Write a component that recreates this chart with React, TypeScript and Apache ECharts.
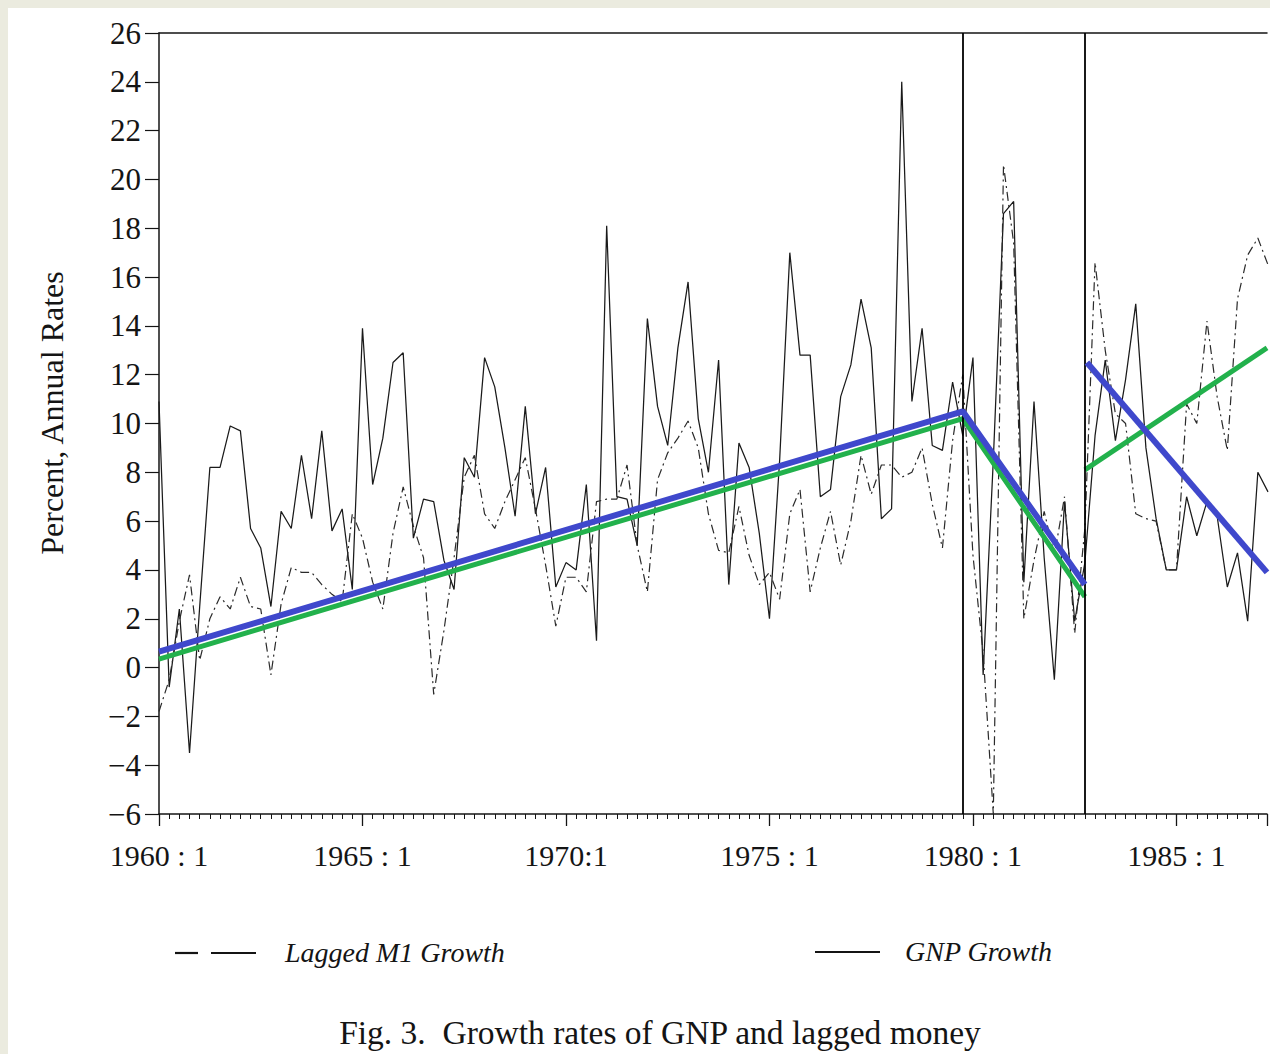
import React, { useEffect, useRef } from 'react';
import * as echarts from 'echarts';

// Quarter index 0 = 1960:1, 109 = 1987:2
const xTickLabels = ['1960 : 1', '1965 : 1', '1970:1', '1975 : 1', '1980 : 1', '1985 : 1'];

const gnpGrowth = [
  10.9, -0.8, 2.4, -3.5, 2.5, 8.2, 8.2, 9.9, 9.7, 5.7,
  4.9, 2.5, 6.4, 5.7, 8.7, 6.1, 9.7, 5.6, 6.5, 3.2,
  13.9, 7.5, 9.4, 12.5, 12.9, 5.3, 6.9, 6.8, 4.4, 3.2,
  8.6, 7.8, 12.7, 11.5, 9.0, 6.2, 10.7, 6.3, 8.2, 3.3,
  4.3, 4.0, 7.5, 1.1, 18.1, 7.0, 6.9, 5.0, 14.3, 10.7,
  9.1, 13.1, 15.8, 10.2, 8.0, 12.6, 3.4, 9.2, 8.2, 5.5,
  2.0, 8.5, 17.0, 12.8, 12.8, 7.0, 7.3, 11.1, 12.4, 15.1,
  13.1, 6.1, 6.5, 24.0, 10.9, 13.9, 9.1, 8.9, 11.7, 9.5,
  12.7, -0.3, 8.5, 18.6, 19.1, 3.5, 10.9, 4.5, -0.5, 6.8,
  1.9, 4.3, 9.5, 12.6, 9.3, 11.8, 14.9, 9.0, 6.1, 4.0,
  4.0, 7.0, 5.4, 6.8, 6.2, 3.3, 4.7, 1.9, 8.0, 7.2,
];

const laggedM1Growth = [
  -1.8, -0.5, 1.9, 3.8, 0.3, 2.0, 2.9, 2.4, 3.7, 2.5,
  2.4, -0.3, 2.6, 4.1, 3.9, 3.9, 3.4, 3.0, 2.7, 6.3,
  5.3, 3.5, 2.4, 5.5, 7.4, 5.8, 4.5, -1.1, 1.5, 4.5,
  7.8, 8.7, 6.3, 5.7, 6.8, 7.7, 8.6, 6.5, 4.2, 1.7,
  3.7, 3.7, 3.1, 6.8, 6.9, 6.9, 8.3, 5.0, 3.1, 7.7,
  8.8, 9.4, 10.1, 9.0, 6.3, 4.8, 4.7, 6.6, 4.6, 3.4,
  3.9, 2.8, 6.3, 7.3, 3.1, 4.9, 6.4, 4.2, 6.0, 8.7,
  7.1, 8.3, 8.3, 7.8, 8.0, 9.0, 6.7, 4.9, 9.3, 12.0,
  4.6, 0.6, -6.0, 20.6, 17.4, 2.0, 4.4, 6.4, 4.6, 7.0,
  1.4, 5.7, 16.6, 13.0, 10.4, 10.0, 6.3, 6.1, 6.0, 4.0,
  4.0, 10.8, 10.0, 14.2, 11.1, 8.9, 15.1, 16.9, 17.6, 16.5,
];

// Regime breaks (1979:4 and 1982:4)
const breakQuarters = [79, 91];

// Piecewise trend lines [quarter index, percent]
const blueTrendA = [[0, 0.65], [79, 10.5], [91, 3.4]];
const blueTrendB = [[91.2, 12.5], [108.9, 3.9]];
const greenTrendA = [[0, 0.35], [79, 10.2], [91, 2.9]];
const greenTrendB = [[91, 8.1], [108.9, 13.1]];

const legendNames = ['Lagged M1 Growth', 'GNP Growth'];
const captionText = 'Fig. 3.  Growth rates of GNP and lagged money';
const yAxisTitle = 'Percent, Annual Rates';

const SERIF = "'Liberation Serif', 'Times New Roman', serif";
const INK = '#141414';

export default function App() {
  const ref = useRef<HTMLDivElement>(null);

  useEffect(() => {
    document.body.style.background = '#ebebdf';
    document.body.style.overflow = 'hidden';
    if (!ref.current) return;
    const chart = echarts.init(ref.current, undefined, { renderer: 'svg' });

    const option: any = {
      animation: false,
      backgroundColor: '#ffffff',
      grid: { left: 151, right: 0, top: 25, bottom: 240 },
      xAxis: [
        {
          type: 'value',
          min: 0,
          max: 108.9,
          interval: 20,
          axisLine: { show: true, onZero: false, lineStyle: { color: INK, width: 1.5 } },
          axisTick: { show: true, length: 12, lineStyle: { color: INK, width: 1.3 } },
          minorTick: { show: true, splitNumber: 20, length: 5, lineStyle: { color: INK, width: 1 } },
          splitLine: { show: false },
          minorSplitLine: { show: false },
          axisLabel: {
            margin: 26,
            color: INK,
            fontFamily: SERIF,
            fontSize: 30,
            formatter: (v: number) => {
              const k = v / 20;
              return Number.isInteger(k) && xTickLabels[k] ? xTickLabels[k] : '';
            },
          },
        },
        {
          type: 'value',
          position: 'top',
          min: 0,
          max: 108.9,
          axisLine: { show: true, onZero: false, lineStyle: { color: INK, width: 1.5 } },
          axisTick: { show: false },
          axisLabel: { show: false },
          splitLine: { show: false },
        },
      ],
      yAxis: {
        type: 'value',
        min: -6,
        max: 26,
        interval: 2,
        axisLine: { show: true, onZero: false, lineStyle: { color: INK, width: 1.5 } },
        axisTick: { show: true, length: 14, lineStyle: { color: INK, width: 1.2 } },
        splitLine: { show: false },
        axisLabel: {
          margin: 18,
          color: INK,
          fontFamily: SERIF,
          fontSize: 31,
          formatter: (v: number) => (v < 0 ? '\u2212' + Math.abs(v) : String(v)),
        },
      },
      series: [
        {
          name: legendNames[1],
          type: 'line',
          data: gnpGrowth.map((v, i) => [i, v]),
          symbol: 'none',
          lineStyle: { color: '#1a1a1a', width: 1.25 },
          z: 2,
          markLine: {
            silent: true,
            symbol: ['none', 'none'],
            label: { show: false },
            lineStyle: { color: '#000', width: 1.8, type: 'solid' },
            data: breakQuarters.map((q) => ({ xAxis: q })),
          },
        },
        {
          name: legendNames[0],
          type: 'line',
          data: laggedM1Growth.map((v, i) => [i, v]),
          symbol: 'none',
          lineStyle: { color: '#2a2a2a', width: 1.2, type: [9, 4, 2, 4] },
          z: 2,
        },
        {
          name: 'Green trend 1960–1982',
          type: 'line',
          data: greenTrendA,
          symbol: 'none',
          lineStyle: { color: '#22b14c', width: 5 },
          z: 4,
        },
        {
          name: 'Green trend 1983–1987',
          type: 'line',
          data: greenTrendB,
          symbol: 'none',
          lineStyle: { color: '#22b14c', width: 5 },
          z: 4,
        },
        {
          name: 'Blue trend 1960–1982',
          type: 'line',
          data: blueTrendA,
          symbol: 'none',
          lineStyle: { color: '#3f48cc', width: 6 },
          z: 5,
        },
        {
          name: 'Blue trend 1983–1987',
          type: 'line',
          data: blueTrendB,
          symbol: 'none',
          lineStyle: { color: '#3f48cc', width: 6 },
          z: 5,
        },
      ],
      graphic: [
        {
          type: 'text',
          x: 44,
          y: 405,
          rotation: Math.PI / 2,
          style: {
            text: yAxisTitle,
            font: `32px ${SERIF}`,
            fill: INK,
            align: 'center',
            verticalAlign: 'middle',
          },
        },
        { type: 'line', shape: { x1: 167, y1: 945, x2: 190, y2: 945 }, style: { stroke: INK, lineWidth: 2.2 } },
        { type: 'line', shape: { x1: 203, y1: 945, x2: 248, y2: 945 }, style: { stroke: INK, lineWidth: 2.2 } },
        {
          type: 'text',
          x: 277,
          y: 944,
          style: {
            text: legendNames[0],
            font: `italic 28px ${SERIF}`,
            fill: INK,
            align: 'left',
            verticalAlign: 'middle',
          },
        },
        { type: 'line', shape: { x1: 807, y1: 944, x2: 872, y2: 944 }, style: { stroke: INK, lineWidth: 1.8 } },
        {
          type: 'text',
          x: 897,
          y: 943,
          style: {
            text: legendNames[1],
            font: `italic 28px ${SERIF}`,
            fill: INK,
            align: 'left',
            verticalAlign: 'middle',
          },
        },
        {
          type: 'text',
          x: 652,
          y: 1024,
          style: {
            text: captionText,
            font: `33.5px ${SERIF}`,
            fill: INK,
            align: 'center',
            verticalAlign: 'middle',
          },
        },
      ],
    };

    chart.setOption(option);
    return () => chart.dispose();
  }, []);

  return (
    <div
      ref={ref}
      style={{ position: 'fixed', left: 8, top: 8, width: 1262, height: 1046, background: '#fff' }}
    />
  );
}
